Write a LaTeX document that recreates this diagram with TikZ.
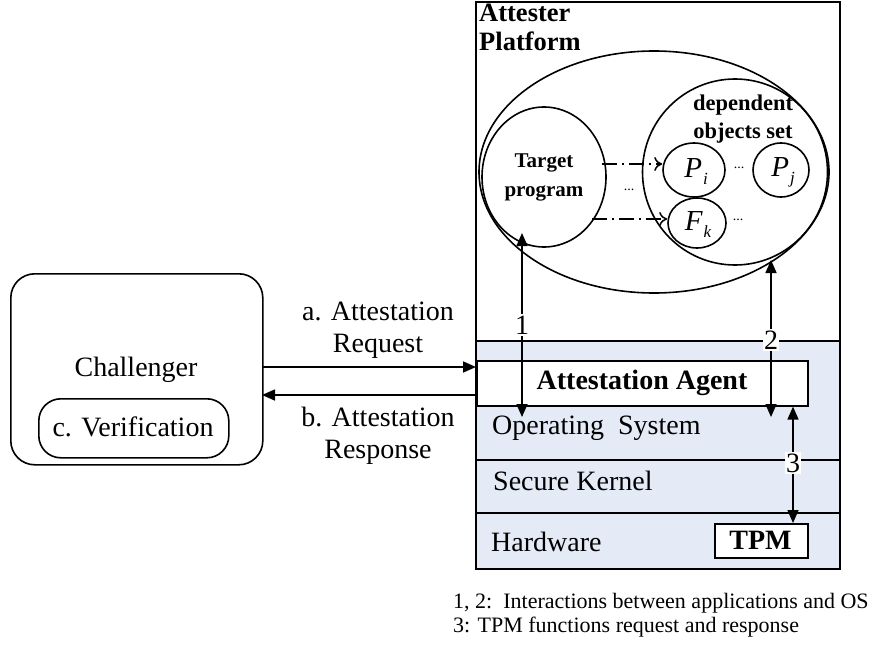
\documentclass[tikz,border=0pt]{standalone}
\usepackage{fontspec}
\setmainfont{Liberation Serif}
\usetikzlibrary{arrows.meta,shapes.geometric}
\definecolor{layerblue}{RGB}{228,235,246}
\newcommand{\objlabel}[2]{\fontsize{29}{29}\selectfont\itshape #1\kern1pt\raisebox{-7pt}{\fontsize{17}{17}\selectfont\itshape #2}}
\tikzset{
  ln/.style={line width=1.6pt},
  tri/.style={-{Triangle[length=13pt,width=11pt]}},
  tritri/.style={{Triangle[length=13pt,width=11pt]}-{Triangle[length=13pt,width=11pt]}},
  dd/.style={line width=1.5pt,dash pattern=on 15pt off 5pt on 2pt off 5pt,-{To[length=8pt,width=14pt,line width=1.5pt]}},
  txt/.style={font=\fontsize{28}{32}\selectfont,inner sep=0pt},
  btxt/.style={font=\fontsize{28}{32}\selectfont\bfseries,inner sep=0pt},
  num/.style={font=\fontsize{28}{32}\selectfont,fill=white,inner xsep=1pt,inner ysep=2pt},
  obj/.style={ellipse,draw,line width=1.6pt,inner sep=0pt},
  dots/.style={font=\fontsize{14}{14}\selectfont,inner sep=0pt},
}
\begin{document}
\begin{tikzpicture}[x=1pt,y=-1pt]
\useasboundingbox (0,0) rectangle (893,647);
% platform
\fill[layerblue] (476,341) rectangle (840,569);
\draw[ln] (476,2) rectangle (840,569);
\draw[line width=1.1pt] (476,341) -- (840,341);
\draw[line width=1.1pt] (476,460) -- (840,460);
\draw[line width=1.1pt] (476,513) -- (840,513);
\node[inner sep=0pt,font=\fontsize{26.5}{29}\selectfont\bfseries,align=left,anchor=north west] (plat) at (479,4) {Attester\\Platform};
% ellipses
\node[obj,minimum width=350pt,minimum height=242pt] (outer) at (654,172) {};
\node[obj,minimum width=185pt,minimum height=186pt] (dep) at (735,172) {};
\node[obj,minimum width=124pt,minimum height=140pt] (tp) at (544,177) {};
\node[inner sep=0pt,font=\fontsize{21}{29}\selectfont\bfseries,align=center] (tptxt) at (544,177) {Target\\program};
\node[inner sep=0pt,font=\fontsize{22.5}{28}\selectfont\bfseries,align=center] (deptxt) at (743,119) {dependent\\objects set};
\node[obj,minimum width=62pt,minimum height=54pt] (pi) at (694,170) {};
\node[inner sep=0pt] (pitxt) at (696,172) {\objlabel{P}{i}};
\node[obj,minimum width=56pt,minimum height=54pt] (pj) at (781,170) {};
\node[inner sep=0pt] (pjtxt) at (783,172) {\objlabel{P}{j}};
\node[obj,minimum width=58pt,minimum height=50pt] (fk) at (697,223) {};
\node[inner sep=0pt] (fktxt) at (698,225) {\objlabel{F}{k}};
\node[dots] (d1) at (739,168) {...};
\node[dots] (d2) at (629,190) {...};
\node[dots] (d3) at (738,220) {...};
\coordinate (s1) at (602,164);
\coordinate (s2) at (592,219);
\draw[dd] (s1) -- (pi.west |- s1);
\draw[dd] (s2) -- (fk.west |- s2);
% layers
\node[draw,ln,fill=white,minimum width=331pt,minimum height=45pt,anchor=north west,inner sep=0pt] (aa) at (476,360) {};
\node[btxt] (aatxt) at (642,383) {Attestation Agent};
\node[txt,anchor=west] (os) at (492,428) {Operating\ \ System};
\node[txt,anchor=west] (sk) at (493,481) {Secure Kernel};
\node[txt,anchor=west] (hw) at (491,542) {Hardware};
\node[draw,ln,fill=white,minimum width=93pt,minimum height=34pt,anchor=north west,inner sep=0pt] (tpm) at (714,523) {};
\node[btxt] (tpmtxt) at (760.5,540) {TPM};
% interaction arrows
\coordinate (a1t) at (522,233);
\coordinate (a1b) at (522,417);
\coordinate (a2t) at (771,260);
\coordinate (a2b) at (771,417);
\draw[ln,tritri] (a1t) -- (a1b);
\draw[ln,tritri] (a2t) -- (a2b);
\draw[ln,tritri] (aa.south east -| 793,0) -- (tpm.north east -| 793,0);
\node[num] (n1) at (522,325) {1};
\node[num] (n2) at (771,340) {2};
\node[num] (n3) at (793,463) {3};
% challenger
\node[draw,ln,rounded corners=24pt,minimum width=252pt,minimum height=191pt,anchor=north west,inner sep=0pt] (ch) at (10,273) {};
\node[txt] (chtxt) at (136,370) {Challenger};
\node[draw,ln,rounded corners=22pt,minimum width=190pt,minimum height=59pt,anchor=north west,inner sep=0pt] (ver) at (38,398) {};
\node[txt] (vertxt) at (133,427) {c. Verification};
\coordinate (rq) at (262,367);
\coordinate (rs) at (262,395);
\draw[ln,tri] (rq) -- (476,367);
\draw[ln,tri] (476,395) -- (rs);
\node[txt,align=center] (lq) at (378,330) {a. Attestation\\Request};
\node[txt,align=center] (ls) at (378,436) {b. Attestation\\Response};
% legend
\node[font=\fontsize{22}{24}\selectfont,anchor=west,align=left,inner sep=0pt] (leg) at (453,615) {1, 2:\ \ Interactions between applications and OS\\3: TPM functions request and response};
\end{tikzpicture}
\end{document}
